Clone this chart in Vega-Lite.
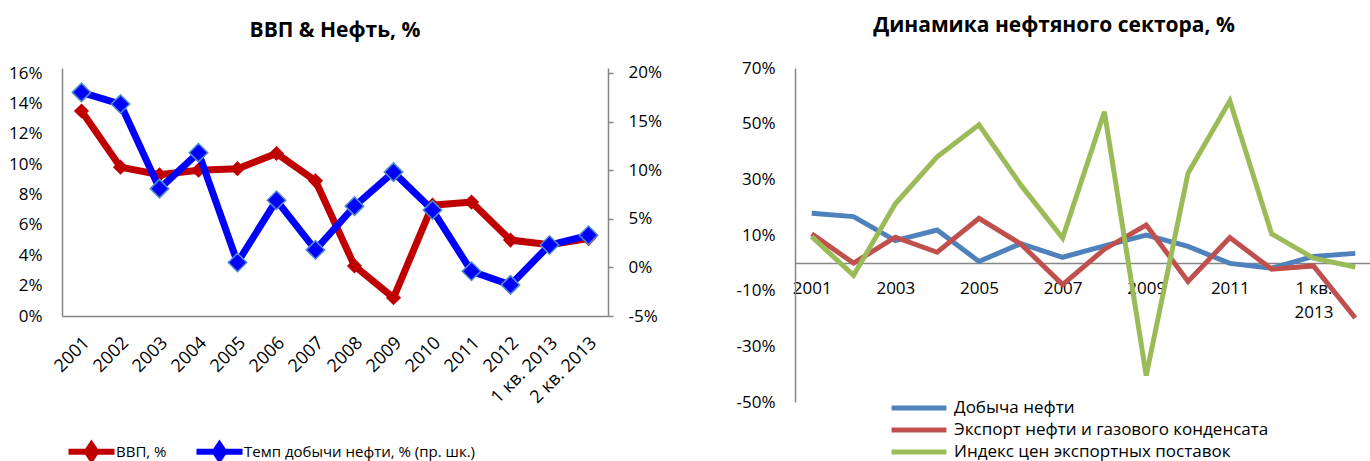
{
  "$schema": "https://vega.github.io/schema/vega-lite/v6.json",
  "background": "white",
  "padding": {"left": 8, "top": 15, "right": 0, "bottom": 0},
  "spacing": 74,
  "config": {
    "font": "Open Sans",
    "view": {"stroke": null},
    "axis": {"labelFont": "Open Sans", "labelFontSize": 17, "labelColor": "#000", "domainColor": "#868686", "domainWidth": 1.5, "ticks": false, "grid": false},
    "legend": {"labelFont": "Open Sans", "labelFontSize": 17, "labelColor": "#000", "labelLimit": 500, "padding": 0},
    "title": {"font": "Open Sans", "fontSize": 21, "fontWeight": "bold", "color": "#000", "anchor": "middle"}
  },
  "datasets": {
    "left": [
      {"period": "2001", "gdp": 13.5, "oil": 18.0},
      {"period": "2002", "gdp": 9.8, "oil": 16.8},
      {"period": "2003", "gdp": 9.3, "oil": 8.1},
      {"period": "2004", "gdp": 9.6, "oil": 11.8},
      {"period": "2005", "gdp": 9.7, "oil": 0.5},
      {"period": "2006", "gdp": 10.7, "oil": 6.9},
      {"period": "2007", "gdp": 8.9, "oil": 1.8},
      {"period": "2008", "gdp": 3.3, "oil": 6.3},
      {"period": "2009", "gdp": 1.2, "oil": 9.8},
      {"period": "2010", "gdp": 7.3, "oil": 5.9},
      {"period": "2011", "gdp": 7.5, "oil": -0.4},
      {"period": "2012", "gdp": 5.0, "oil": -1.8},
      {"period": "1 кв. 2013", "gdp": 4.7, "oil": 2.3},
      {"period": "2 кв. 2013", "gdp": 5.1, "oil": 3.3}
    ],
    "right": [
      {"period": "2001", "series": "Добыча нефти", "value": 17.8},
      {"period": "2002", "series": "Добыча нефти", "value": 16.6},
      {"period": "2003", "series": "Добыча нефти", "value": 8.0},
      {"period": "2004", "series": "Добыча нефти", "value": 11.8},
      {"period": "2005", "series": "Добыча нефти", "value": 0.5},
      {"period": "2006", "series": "Добыча нефти", "value": 6.9},
      {"period": "2007", "series": "Добыча нефти", "value": 2.0},
      {"period": "2008", "series": "Добыча нефти", "value": 6.1},
      {"period": "2009", "series": "Добыча нефти", "value": 10.0},
      {"period": "2010", "series": "Добыча нефти", "value": 5.9},
      {"period": "2011", "series": "Добыча нефти", "value": -0.2},
      {"period": "2012", "series": "Добыча нефти", "value": -1.9},
      {"period": "1 кв. 2013", "series": "Добыча нефти", "value": 2.3},
      {"period": "2 кв. 2013", "series": "Добыча нефти", "value": 3.4},
      {"period": "2001", "series": "Экспорт нефти и газового конденсата", "value": 10.4},
      {"period": "2002", "series": "Экспорт нефти и газового конденсата", "value": -0.1},
      {"period": "2003", "series": "Экспорт нефти и газового конденсата", "value": 9.2},
      {"period": "2004", "series": "Экспорт нефти и газового конденсата", "value": 3.8},
      {"period": "2005", "series": "Экспорт нефти и газового конденсата", "value": 16.0},
      {"period": "2006", "series": "Экспорт нефти и газового конденсата", "value": 6.8},
      {"period": "2007", "series": "Экспорт нефти и газового конденсата", "value": -7.8},
      {"period": "2008", "series": "Экспорт нефти и газового конденсата", "value": 4.9},
      {"period": "2009", "series": "Экспорт нефти и газового конденсата", "value": 13.6},
      {"period": "2010", "series": "Экспорт нефти и газового конденсата", "value": -6.7},
      {"period": "2011", "series": "Экспорт нефти и газового конденсата", "value": 9.1},
      {"period": "2012", "series": "Экспорт нефти и газового конденсата", "value": -2.3},
      {"period": "1 кв. 2013", "series": "Экспорт нефти и газового конденсата", "value": -1.1},
      {"period": "2 кв. 2013", "series": "Экспорт нефти и газового конденсата", "value": -19.8},
      {"period": "2001", "series": "Индекс цен экспортных поставок", "value": 9.4},
      {"period": "2002", "series": "Индекс цен экспортных поставок", "value": -4.5},
      {"period": "2003", "series": "Индекс цен экспортных поставок", "value": 21.2},
      {"period": "2004", "series": "Индекс цен экспортных поставок", "value": 38.1},
      {"period": "2005", "series": "Индекс цен экспортных поставок", "value": 49.6},
      {"period": "2006", "series": "Индекс цен экспортных поставок", "value": 28.0},
      {"period": "2007", "series": "Индекс цен экспортных поставок", "value": 8.9},
      {"period": "2008", "series": "Индекс цен экспортных поставок", "value": 54.3},
      {"period": "2009", "series": "Индекс цен экспортных поставок", "value": -40.5},
      {"period": "2010", "series": "Индекс цен экспортных поставок", "value": 32.2},
      {"period": "2011", "series": "Индекс цен экспортных поставок", "value": 58.2},
      {"period": "2012", "series": "Индекс цен экспортных поставок", "value": 10.4},
      {"period": "1 кв. 2013", "series": "Индекс цен экспортных поставок", "value": 1.7},
      {"period": "2 кв. 2013", "series": "Индекс цен экспортных поставок", "value": -1.5}
    ]
  },
  "hconcat": [
    {
      "title": {"text": "ВВП & Нефть, %", "offset": 23},
      "width": 546,
      "height": 248,
      "data": {"name": "left"},
      "encoding": {
        "x": {"field": "period", "type": "ordinal", "sort": null, "scale": {"type": "point", "padding": 0.5}, "axis": {"title": null, "labelAngle": -45, "labelAlign": "right", "labelBaseline": "middle", "labelPadding": 24, "labelOffset": 5, "labelFontSize": 18}}
      },
      "layer": [
        {
          "encoding": {
            "y": {"field": "gdp", "type": "quantitative", "scale": {"domain": [0, 16.33], "nice": false, "zero": false}, "axis": {"title": null, "values": [0, 2, 4, 6, 8, 10, 12, 14, 16], "labelExpr": "datum.value + '%'", "labelPadding": 20}}
          },
          "layer": [
            {
              "mark": {"type": "line", "strokeWidth": 7},
              "encoding": {
                "color": {"datum": "ВВП, %", "type": "nominal", "scale": {"domain": ["ВВП, %", "Темп добычи нефти, % (пр. шк.)"], "range": ["#c00000", "#0000ff"]},
                  "legend": {"title": null, "orient": "none", "legendX": 15, "legendY": 369, "direction": "horizontal", "symbolType": "M-2,0H2M0,-0.6L0.4,0L0,0.6L-0.4,0Z", "symbolSize": 529, "symbolStrokeWidth": 6, "labelOffset": 10, "labelFontSize": 15, "columnPadding": 17}}
              }
            },
            {
              "mark": {"type": "point", "shape": "diamond", "filled": true, "size": 230, "color": "#c00000", "opacity": 1},
              "encoding": {}
            }
          ]
        },
        {
          "encoding": {
            "y": {"field": "oil", "type": "quantitative", "scale": {"domain": [-5, 20.51], "nice": false, "zero": false}, "axis": {"title": null, "orient": "right", "values": [-5, 0, 5, 10, 15, 20], "labelExpr": "datum.value + '%'", "ticks": true, "tickSize": 5, "tickColor": "#868686", "tickWidth": 1.5, "labelPadding": 15}}
          },
          "layer": [
            {
              "mark": {"type": "line", "strokeWidth": 7},
              "encoding": {
                "color": {"datum": "Темп добычи нефти, % (пр. шк.)", "type": "nominal"}
              }
            },
            {
              "mark": {"type": "point", "shape": "diamond", "filled": true, "size": 340, "fill": "#0000ff", "stroke": "#4f8fd0", "strokeWidth": 1.5, "opacity": 1},
              "encoding": {}
            }
          ]
        }
      ],
      "resolve": {"scale": {"y": "independent"}}
    },
    {
      "title": {"text": "Динамика нефтяного сектора, %", "offset": 23, "frame": "bounds"},
      "width": 577,
      "height": 334,
      "data": {"name": "right"},
      "mark": {"type": "line", "strokeWidth": 5},
      "encoding": {
        "x": {"field": "period", "type": "ordinal", "sort": null, "scale": {"type": "point", "padding": 0.4},
          "axis": {"title": null, "labelAngle": 0, "offset": -139, "labelPadding": 17, "labelOverlap": false, "labelLineHeight": 24,
            "labelExpr": "datum.label == '1 кв. 2013' ? ['1 кв.', '2013'] : (indexof(['2001','2003','2005','2007','2009','2011'], datum.label) >= 0 ? datum.label : '')"}},
        "y": {"field": "value", "type": "quantitative", "scale": {"domain": [-50, 70], "nice": false},
          "axis": {"title": null, "values": [-50, -30, -10, 10, 30, 50, 70], "labelExpr": "datum.value + '%'", "labelPadding": 20}},
        "color": {"field": "series", "type": "nominal", "sort": null,
          "scale": {"domain": ["Добыча нефти", "Экспорт нефти и газового конденсата", "Индекс цен экспортных поставок"], "range": ["#4f81bd", "#c0504d", "#9bbb59"]},
          "legend": {"title": null, "orient": "none", "legendX": 112, "legendY": 328, "direction": "vertical", "symbolType": "M-3,0H3", "symbolSize": 335, "symbolStrokeWidth": 5, "labelOffset": 23, "rowPadding": 0}}
      }
    }
  ],
  "resolve": {"scale": {"color": "independent"}, "legend": {"color": "independent"}}
}
